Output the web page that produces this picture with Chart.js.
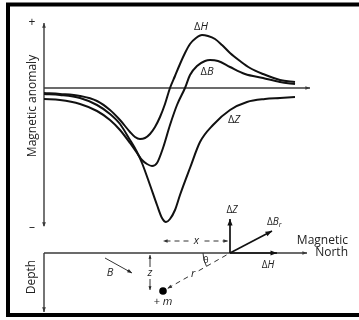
<!DOCTYPE html>
<html>
<head>
<meta charset="utf-8">
<script src="https://cdn.jsdelivr.net/npm/chart.js@4/dist/chart.umd.min.js"></script>
<style>
  html, body { margin: 0; padding: 0; background: #fff; }
  #wrap { width: 359px; height: 320px; }
</style>
</head>
<body>
<div id="wrap"><canvas id="anomalyChart" width="359" height="320"></canvas></div>
<script>
// profile distance (source directly below x = 0) and anomaly, arbitrary units
const dHx = [-11.9, -10.3, -8.3, -6.6, -5.3, -4.3, -3.3, -2.8, -2.3, -1.8, -1.3, -0.8, -0.3, 0.2, 0.7, 1.2, 1.7, 2.2, 2.7, 3.3, 3.9, 4.5, 5.2, 5.9, 6.7, 7.7, 8.7, 10.0, 11.7, 13.2];
const dHy = [-0.5, -0.6, -0.8, -1.3, -2.2, -3.2, -4.4, -4.9, -5.1, -5.0, -4.6, -3.9, -2.9, -1.6, 0, 1.2, 2.4, 3.5, 4.4, 5.0, 5.3, 5.2, 4.9, 4.3, 3.5, 2.7, 2.0, 1.4, 0.8, 0.6];

const dBx = [-11.9, -10.3, -8.3, -6.6, -5.3, -4.3, -3.3, -2.6, -2.1, -1.6, -1.1, -0.6, 0.0, 0.7, 1.4, 2.2, 2.7, 3.4, 4.2, 4.7, 5.5, 6.7, 8.2, 10.0, 11.7, 13.2];
const dBy = [-1.1, -1.2, -1.6, -2.3, -3.2, -4.2, -5.5, -6.5, -7.2, -7.6, -7.8, -7.5, -6.0, -3.7, -1.7, 0, 1.3, 2.2, 2.7, 2.8, 2.7, 2.1, 1.4, 1.0, 0.6, 0.4];

const dZx = [-11.9, -10.3, -8.3, -6.6, -5.3, -4.3, -3.3, -2.6, -2.1, -1.3, -0.6, -0.1, 0.3, 0.7, 1.2, 1.7, 2.7, 3.7, 5.0, 6.7, 8.4, 10.2, 11.7, 13.2];
const dZy = [-0.6, -0.7, -1.0, -1.7, -2.6, -3.6, -5.2, -6.4, -7.5, -9.7, -11.7, -13.0, -13.4, -13.1, -12.2, -10.7, -8.0, -5.4, -3.7, -2.2, -1.4, -1.1, -1.0, -0.9];

const seriesNames = ['ΔH', 'ΔB', 'ΔZ'];

// cross-section geometry (profile distance, depth)
const sourcePos = [0, 3.8];
const obsPos = [6.7, 0];
const vecZ = [6.7, -3.4];
const vecBr = [10.9, -2.2];
const vecH = [11.4, 0];
const fieldB = [[-5.8, 0.5], [-3.1, 2.0]];
const axisX = -11.9;

const pts = (xs, ys) => xs.map((x, i) => ({ x: x, y: ys[i] }));

function arrowHead(ctx, x1, y1, x2, y2, size) {
  const a = Math.atan2(y2 - y1, x2 - x1);
  ctx.beginPath();
  ctx.moveTo(x2, y2);
  ctx.lineTo(x2 - size * Math.cos(a - 0.38), y2 - size * Math.sin(a - 0.38));
  ctx.lineTo(x2 - size * Math.cos(a + 0.38), y2 - size * Math.sin(a + 0.38));
  ctx.closePath();
  ctx.fill();
}

function arrow(ctx, x1, y1, x2, y2, size, dash) {
  ctx.save();
  ctx.setLineDash(dash || []);
  ctx.beginPath();
  ctx.moveTo(x1, y1);
  ctx.lineTo(x2, y2);
  ctx.stroke();
  ctx.restore();
  if (size) arrowHead(ctx, x1, y1, x2, y2, size);
}

function rich(ctx, parts, x, y, align) {
  const fnt = p => (p.i ? 'italic ' : '') + (p.s || 11) + 'px "Open Sans", sans-serif';
  let w = 0;
  parts.forEach(p => { ctx.font = fnt(p); w += ctx.measureText(p.t).width; });
  let cx = align === 'center' ? x - w / 2 : align === 'right' ? x - w : x;
  ctx.textAlign = 'left';
  parts.forEach(p => {
    ctx.font = fnt(p);
    ctx.fillText(p.t, cx, y + (p.dy || 0));
    cx += ctx.measureText(p.t).width;
  });
}

const diagram = {
  id: 'diagram',
  beforeDatasetsDraw(chart) {
    const ctx = chart.ctx;
    const sx = chart.scales.x, sy = chart.scales.y;
    const ax = sx.getPixelForValue(axisX);
    ctx.save();
    ctx.strokeStyle = '#3a3a3a';
    ctx.fillStyle = '#3a3a3a';
    ctx.lineWidth = 1.4;
    // anomaly axis
    const top = sy.getPixelForValue(6.5), bot = sy.getPixelForValue(-13.9);
    arrow(ctx, ax, bot - 1, ax, top, 5);
    arrowHead(ctx, ax, top, ax, bot, 5);
    // zero line
    const y0 = sy.getPixelForValue(0);
    arrow(ctx, ax, y0, sx.getPixelForValue(14.7), y0, 5);
    ctx.restore();
  },
  afterDatasetsDraw(chart) {
    const ctx = chart.ctx;
    const sx = chart.scales.x, sy = chart.scales.y, sd = chart.scales.depth;
    const px = v => sx.getPixelForValue(v);
    const pd = v => sd.getPixelForValue(v);
    const ax = px(axisX);
    ctx.save();
    ctx.textBaseline = 'middle';

    // frame
    ctx.lineWidth = 4;
    ctx.strokeStyle = '#000';
    ctx.strokeRect(8, 4.5, 370, 310.5);

    ctx.strokeStyle = '#3a3a3a';
    ctx.fillStyle = '#3a3a3a';
    ctx.lineWidth = 1.4;
    // depth section axes
    const d0 = pd(0);
    arrow(ctx, ax, d0, px(14.4), d0, 5);
    arrow(ctx, ax, d0, ax, pd(5.9), 5);

    // axis texts
    ctx.fillStyle = '#222';
    ctx.font = '12px "Open Sans", sans-serif';
    ctx.textAlign = 'center';
    ctx.fillText('+', 32, sy.getPixelForValue(6.5));
    ctx.fillText('\u2013', 32, sy.getPixelForValue(-14));
    ctx.save();
    ctx.translate(33, sy.getPixelForValue(-1.8));
    ctx.rotate(-Math.PI / 2);
    ctx.fillText('Magnetic anomaly', 0, 0);
    ctx.restore();
    ctx.save();
    ctx.translate(32, pd(2.4));
    ctx.rotate(-Math.PI / 2);
    ctx.fillText('Depth', 0, 0);
    ctx.restore();
    ctx.textAlign = 'right';
    ctx.fillText('Magnetic', 348, pd(-1.2));
    ctx.fillText('North', 348, pd(0));

    // curve labels
    rich(ctx, [{ t: 'Δ' }, { t: 'H', i: true }], px(3.8), sy.getPixelForValue(6.1), 'center');
    rich(ctx, [{ t: 'Δ' }, { t: 'B', i: true }], px(4.4), sy.getPixelForValue(1.6), 'center');
    rich(ctx, [{ t: 'Δ' }, { t: 'Z', i: true }], px(7.1), sy.getPixelForValue(-3.2), 'center');

    // vectors at observation point
    const ox = px(obsPos[0]), oy = pd(obsPos[1]);
    ctx.strokeStyle = '#111';
    ctx.fillStyle = '#111';
    ctx.lineWidth = 1.7;
    arrow(ctx, ox, oy, px(vecZ[0]), pd(vecZ[1]), 7);
    arrow(ctx, ox, oy, px(vecBr[0]), pd(vecBr[1]), 7);
    arrow(ctx, ox, oy, px(vecH[0]), pd(vecH[1]), 7);
    ctx.fillStyle = '#222';
    rich(ctx, [{ t: 'Δ', s: 10 }, { t: 'Z', i: true, s: 10 }], px(vecZ[0]) + 2, pd(vecZ[1]) - 9, 'center');
    rich(ctx, [{ t: 'Δ', s: 10 }, { t: 'B', i: true, s: 10 }, { t: 'r', i: true, s: 7, dy: 3 }], px(vecBr[0]) - 5, pd(vecBr[1]) - 9, 'left');
    rich(ctx, [{ t: 'Δ', s: 10 }, { t: 'H', i: true, s: 10 }], px(vecH[0]) - 9, pd(vecH[1]) + 12, 'center');

    // x distance (dashed, double headed)
    ctx.strokeStyle = '#333';
    ctx.fillStyle = '#333';
    ctx.lineWidth = 1;
    const xy = pd(-1.2);
    const sxp = px(sourcePos[0]);
    const xmid = (sxp + ox) / 2;
    arrow(ctx, xmid - 8, xy, sxp, xy, 5, [5, 4]);
    arrow(ctx, xmid + 8, xy, ox - 2, xy, 5, [5, 4]);
    ctx.fillStyle = '#222';
    rich(ctx, [{ t: 'x', i: true, s: 11 }], xmid, xy, 'center');

    // r line to source
    const sp = [px(sourcePos[0]), pd(sourcePos[1])];
    const dx = sp[0] - ox, dy = sp[1] - oy, len = Math.hypot(dx, dy);
    const ux = dx / len, uy = dy / len;
    const rm = len * 0.55;
    ctx.fillStyle = '#333';
    arrow(ctx, ox + ux * 4, oy + uy * 4, ox + ux * (rm - 6), oy + uy * (rm - 6), 0, [5, 4]);
    arrow(ctx, ox + ux * (rm + 6), oy + uy * (rm + 6), sp[0] - ux * 5, sp[1] - uy * 5, 5, [5, 4]);
    ctx.fillStyle = '#222';
    rich(ctx, [{ t: 'r', i: true, s: 11 }], ox + ux * rm, oy + uy * rm, 'center');

    // theta arc
    ctx.lineWidth = 1;
    ctx.beginPath();
    ctx.arc(ox, oy, 27, Math.atan2(dy, dx), Math.PI);
    ctx.stroke();
    rich(ctx, [{ t: 'θ', s: 9 }], ox - 24, oy + 7, 'center');

    // z depth arrow
    const zx = px(-1.3);
    arrow(ctx, zx, pd(1.4), zx, d0 + 2, 4);
    arrow(ctx, zx, pd(2.6), zx, pd(3.7), 4);
    rich(ctx, [{ t: 'z', i: true, s: 11 }], zx, pd(2.0), 'center');

    // field direction B
    arrow(ctx, px(fieldB[0][0]), pd(fieldB[0][1]), px(fieldB[1][0]), pd(fieldB[1][1]), 5);
    rich(ctx, [{ t: 'B', i: true, s: 11 }], px(-5.3), pd(2.0), 'center');

    // source
    ctx.fillStyle = '#000';
    ctx.beginPath();
    ctx.arc(sp[0], sp[1], 3.8, 0, Math.PI * 2);
    ctx.fill();
    ctx.fillStyle = '#222';
    rich(ctx, [{ t: '+ ', s: 11 }, { t: 'm', i: true, s: 11 }], sp[0], sp[1] + 11, 'center');
    ctx.restore();
  }
};

const lineStyle = { borderColor: '#111', borderWidth: 2, pointRadius: 0, fill: false, cubicInterpolationMode: 'monotone' };

new Chart(document.getElementById('anomalyChart'), {
  type: 'line',
  data: {
    datasets: [
      Object.assign({ label: seriesNames[0], data: pts(dHx, dHy) }, lineStyle),
      Object.assign({ label: seriesNames[1], data: pts(dBx, dBy) }, lineStyle),
      Object.assign({ label: seriesNames[2], data: pts(dZx, dZy) }, lineStyle)
    ]
  },
  options: {
    responsive: false,
    animation: false,
    layout: { padding: 0 },
    plugins: { legend: { display: false }, tooltip: { enabled: false } },
    scales: {
      x: { type: 'linear', min: -16.3, max: 19.6, display: false },
      y: { type: 'linear', min: -23.2, max: 8.8, display: false },
      depth: { axis: 'y', position: 'left', type: 'linear', min: -25.3, max: 6.7, reverse: true, display: false }
    }
  },
  plugins: [diagram]
});
</script>
</body>
</html>
